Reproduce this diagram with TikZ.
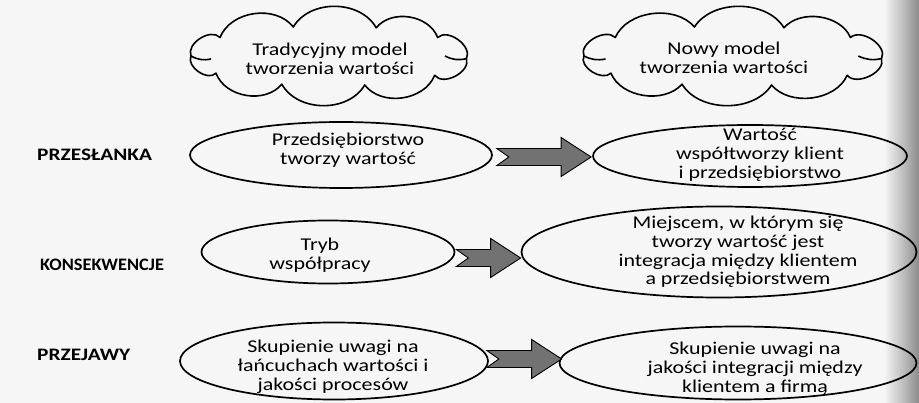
\documentclass[tikz,border=0pt]{standalone}
\usepackage{fontspec}
\setmainfont{Carlito}[FakeStretch=1.22]
\usetikzlibrary{shapes.geometric,calc}
\definecolor{bgcol}{HTML}{F6F6F6}
\definecolor{arrowgray}{HTML}{727272}
\newcommand\blockarrow[2]{%
  \filldraw[fill=arrowgray, draw=black, line width=0.9pt, line join=miter]
    let \p1=#1, \p2=#2 in
    (\x1,\y2+8.5pt) -- (\x2-30pt,\y2+8.5pt) -- (\x2-30pt,\y2+19.5pt) -- (\x2,\y2)
    -- (\x2-30pt,\y2-19.5pt) -- (\x2-30pt,\y2-8.5pt) -- (\x1,\y2-8.5pt) -- (\x1+12pt,\y2) -- cycle;}
% cloud outline around a centre coordinate
\newcommand\cloudoutline[2]{%
  \begin{scope}[shift={(#1)}, xscale=#2]
    \draw[cloudline]
      (-138,0) to[bend left=80] (-109,-18.5) to[bend left=60] (-35.7,-29)
      to[bend left=60] (47.2,-28.2) to[bend left=60] (108.7,-18.5)
      to[bend left=80] (137.5,2.6) to[bend left=80] (105.7,19.3)
      to[bend left=60] (35.7,29) to[bend left=60] (-47.2,28.2)
      to[bend left=60] (-113,17.2) to[bend left=80] cycle;
    \draw[cloudline] (-138,0) to[bend right=20] (-118,3);
    \draw[cloudline] (137.5,2.6) to[bend left=20] (116,0);
  \end{scope}}
\begin{document}
\begin{tikzpicture}[x=1pt,y=-1pt,
  cloudline/.style={draw=black, line width=1.6pt, line join=round},
  oval/.style={ellipse, draw=black, line width=1.7pt, inner sep=0pt},
  txt/.style={align=center, font=\fontsize{18}{18.8}\selectfont, inner sep=0pt},
  lbl/.style={anchor=west, font=\fontsize{17.5}{19.5}\selectfont\bfseries, inner sep=0pt}]
\fill[bgcol] (0,0) rectangle (919,403);
\useasboundingbox (0,0) rectangle (919,403);
\shade[left color=bgcol, right color=black!45] (884,0) rectangle (919,403);

% clouds
\coordinate (C1c) at (329,56);
\coordinate (C2c) at (733,56);
\cloudoutline{C1c}{1}
\cloudoutline{C2c}{1.08}
\node[txt] (C1t) at (330,59) {Tradycyjny model\\tworzenia wartości};
\node[txt] (C2t) at (724,58) {Nowy model\\tworzenia wartości};

% row labels
\node[lbl] (P1) at (37,155) {PRZESŁANKA};
\node[lbl] (P2) at (40,265) {\scalebox{0.86}[1]{KONSEKWENCJE}};
\node[lbl] (P3) at (37,355) {PRZEJAWY};

% ellipses
\node[oval, minimum width=302pt, minimum height=66pt] (L1) at (341,155) {};
\node[oval, minimum width=314pt, minimum height=62pt] (R1) at (750,156) {};
\node[oval, minimum width=253pt, minimum height=63pt] (L2) at (328,252) {};
\node[oval, minimum width=395pt, minimum height=91pt] (R2) at (719,252) {};
\node[oval, minimum width=308pt, minimum height=77pt] (L3) at (334,361) {};
\node[oval, minimum width=357pt, minimum height=73pt] (R3) at (738,363) {};

\node[txt] (L1t) at (348,150) {Przedsiębiorstwo\\tworzy wartość};
\node[txt] (R1t) at (760,155) {Wartość\\współtworzy klient\\i przedsiębiorstwo};
\node[txt] (L2t) at (320,255) {Tryb\\współpracy};
\node[txt] (R2t) at (738,252) {Miejscem, w którym się\\tworzy wartość jest\\integracja między klientem\\a przedsiębiorstwem};
\node[txt] (L3t) at (333,367) {Skupienie uwagi na\\łańcuchach wartości i\\jakości procesów};
\node[txt] (R3t) at (755,369) {Skupienie uwagi na\\jakości integracji między\\klientem a firmą};

% block arrows
\blockarrow{($(L1.east)+(4,0)$)}{($(R1.west)+(-1,1)$)}
\blockarrow{($(L2.east)+(1,0)$)}{($(R2.west)+(0,6)$)}
\blockarrow{($(L3.east)+(-2,0)$)}{($(R3.west)+(3,-4)$)}
\end{tikzpicture}
\end{document}
